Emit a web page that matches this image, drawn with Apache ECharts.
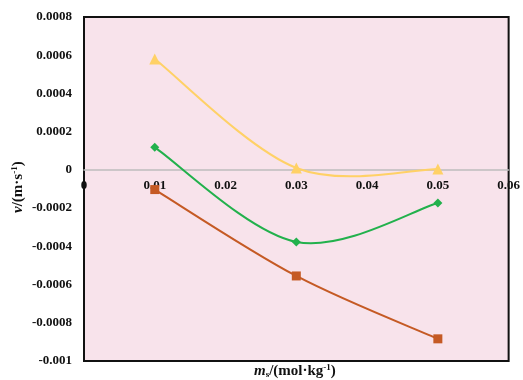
<!DOCTYPE html>
<html>
<head>
<meta charset="utf-8">
<script src="https://cdn.jsdelivr.net/npm/echarts@6/dist/echarts.min.js"></script>
<style>
  html, body { margin: 0; padding: 0; background: #ffffff; }
  #chart { width: 523px; height: 380px; }
</style>
</head>
<body>
<div id="chart"></div>
<script>
// Molality values (mol·kg⁻¹) on the x axis
const molality = [0.01, 0.03, 0.05];
// Velocity series (m·s⁻¹)
const velTriangle = [0.00058, 0.00001, 0.000005];
const velDiamond = [0.000118, -0.000377, -0.000173];
const velSquare = [-0.000103, -0.000555, -0.000884];

const xTicks = { min: 0, max: 0.06, step: 0.01 };
const yTicks = { min: -0.001, max: 0.0008, step: 0.0002 };

const serif = '"Liberation Serif", "Times New Roman", serif';
const W = 523, H = 380;
const grid = { left: 84, right: 10, top: 17, bottom: 19 };

function pairs(ys) {
  return molality.map((x, i) => [x, ys[i]]);
}
function fmt(v) {
  return String(parseFloat(v.toFixed(6)));
}

// Pixel distance from the bottom of the plot up to the zero line,
// so the x axis (line and labels) sits on y = 0.
const plotH = H - grid.top - grid.bottom;
const zeroLift = plotH * (0 - yTicks.min) / (yTicks.max - yTicks.min);

// Catmull-Rom style smoothed curve, one cubic segment per data item,
// with control points taken from the neighbouring points in pixel space.
function smoothCurve(data, color) {
  return {
    type: 'custom',
    data: data,
    clip: true,
    z: 2,
    renderItem: function (params, api) {
      const i = params.dataIndex;
      if (i >= data.length - 1) return null;
      const p = data.map(d => api.coord(d));
      const p0 = p[Math.max(i - 1, 0)];
      const p1 = p[i];
      const p2 = p[i + 1];
      const p3 = p[Math.min(i + 2, p.length - 1)];
      const k = 1 / 6;
      return {
        type: 'bezierCurve',
        shape: {
          x1: p1[0], y1: p1[1],
          x2: p2[0], y2: p2[1],
          cpx1: p1[0] + (p2[0] - p0[0]) * k,
          cpy1: p1[1] + (p2[1] - p0[1]) * k,
          cpx2: p2[0] - (p3[0] - p1[0]) * k,
          cpy2: p2[1] - (p3[1] - p1[1]) * k
        },
        style: { stroke: color, lineWidth: 2, fill: null }
      };
    }
  };
}

function markers(data, color, symbol, size) {
  return {
    type: 'scatter',
    data: data,
    symbol: symbol,
    symbolSize: size,
    z: 3,
    itemStyle: { color: color, opacity: 1 }
  };
}

const cSquare = '#c55a24';
const cDiamond = '#22b14c';
const cTriangle = '#ffd166';

const chart = echarts.init(document.getElementById('chart'), null, { renderer: 'canvas' });

chart.setOption({
  animation: false,
  backgroundColor: '#ffffff',
  grid: {
    left: grid.left, right: grid.right, top: grid.top, bottom: grid.bottom,
    show: true,
    backgroundColor: '#f8e3eb',
    borderColor: '#111111',
    borderWidth: 2
  },
  xAxis: {
    type: 'value',
    position: 'bottom',
    offset: -zeroLift,
    min: xTicks.min, max: xTicks.max, interval: xTicks.step,
    axisLine: { onZero: false, lineStyle: { color: '#bdbdbd', width: 1.5 } },
    axisTick: { show: false },
    splitLine: { show: false },
    axisLabel: {
      margin: 9,
      color: '#111', fontFamily: serif, fontWeight: 'bold', fontSize: 13,
      formatter: fmt
    }
  },
  yAxis: {
    type: 'value',
    min: yTicks.min, max: yTicks.max, interval: yTicks.step,
    axisLine: { show: true, onZero: false, lineStyle: { color: '#111', width: 2 } },
    axisTick: { show: false },
    splitLine: { show: false },
    axisLabel: {
      margin: 12,
      color: '#111', fontFamily: serif, fontWeight: 'bold', fontSize: 13,
      formatter: fmt
    }
  },
  graphic: [
    {
      type: 'text',
      left: 254, top: 363,
      style: {
        text: '{i|m}{sub|s}{n|/(mol·kg}{sup|-1}{n|)}',
        fill: '#111',
        rich: {
          i: { fontFamily: serif, fontWeight: 'bold', fontStyle: 'italic', fontSize: 15, fill: '#111' },
          n: { fontFamily: serif, fontWeight: 'bold', fontSize: 15, fill: '#111' },
          sub: { fontFamily: serif, fontWeight: 'bold', fontSize: 9, fill: '#111', verticalAlign: 'bottom', padding: [7, 0, 0, 0] },
          sup: { fontFamily: serif, fontWeight: 'bold', fontSize: 9, fill: '#111', verticalAlign: 'top', padding: [0, 0, 7, 0] }
        }
      }
    },
    {
      type: 'text',
      x: 10, y: 213,
      rotation: Math.PI / 2,
      style: {
        text: '{i|v}{n|/(m·s}{sup|-1}{n|)}',
        fill: '#111',
        rich: {
          i: { fontFamily: serif, fontWeight: 'bold', fontStyle: 'italic', fontSize: 15, fill: '#111' },
          n: { fontFamily: serif, fontWeight: 'bold', fontSize: 15, fill: '#111' },
          sup: { fontFamily: serif, fontWeight: 'bold', fontSize: 9, fill: '#111', verticalAlign: 'top', padding: [0, 0, 7, 0] }
        }
      }
    }
  ],
  series: [
    smoothCurve(pairs(velSquare), cSquare),
    smoothCurve(pairs(velDiamond), cDiamond),
    smoothCurve(pairs(velTriangle), cTriangle),
    markers(pairs(velSquare), cSquare, 'rect', 9),
    markers(pairs(velDiamond), cDiamond, 'diamond', 9),
    markers(pairs(velTriangle), cTriangle, 'triangle', 11)
  ]
});
</script>
</body>
</html>
